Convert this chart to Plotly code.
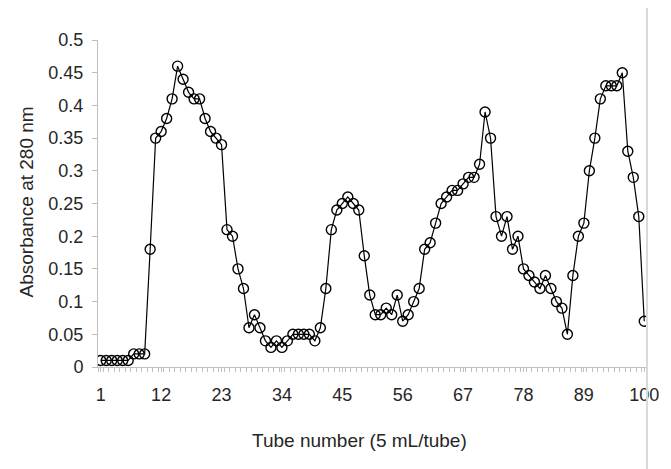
import plotly.graph_objects as go

tubes = list(range(1, 101))
absorbance = [
    0.01, 0.01, 0.01, 0.01, 0.01, 0.01, 0.02, 0.02, 0.02, 0.18,
    0.35, 0.36, 0.38, 0.41, 0.46, 0.44, 0.42, 0.41, 0.41, 0.38,
    0.36, 0.35, 0.34, 0.21, 0.20, 0.15, 0.12, 0.06, 0.08, 0.06,
    0.04, 0.03, 0.04, 0.03, 0.04, 0.05, 0.05, 0.05, 0.05, 0.04,
    0.06, 0.12, 0.21, 0.24, 0.25, 0.26, 0.25, 0.24, 0.17, 0.11,
    0.08, 0.08, 0.09, 0.08, 0.11, 0.07, 0.08, 0.10, 0.12, 0.18,
    0.19, 0.22, 0.25, 0.26, 0.27, 0.27, 0.28, 0.29, 0.29, 0.31,
    0.39, 0.35, 0.23, 0.20, 0.23, 0.18, 0.20, 0.15, 0.14, 0.13,
    0.12, 0.14, 0.12, 0.10, 0.09, 0.05, 0.14, 0.20, 0.22, 0.30,
    0.35, 0.41, 0.43, 0.43, 0.43, 0.45, 0.33, 0.29, 0.23, 0.07,
]
x_tickvals = [1, 12, 23, 34, 45, 56, 67, 78, 89, 100]
y_tickvals = [0, 0.05, 0.1, 0.15, 0.2, 0.25, 0.3, 0.35, 0.4, 0.45, 0.5]
y_ticktext = ["0", "0.05", "0.1", "0.15", "0.2", "0.25", "0.3", "0.35", "0.4", "0.45", "0.5"]
x_title = "Tube number (5 mL/tube)"
y_title = "Absorbance at 280 nm"

FONT = "Arial, Liberation Sans, Helvetica, sans-serif"
AXIS_GRAY = "#bfbfbf"
TEXT = "#262626"

fig = go.Figure()
fig.add_trace(go.Scatter(
    x=tubes, y=absorbance, mode="lines+markers",
    line=dict(color="black", width=1.2),
    marker=dict(symbol="circle-open", size=10, color="black", line=dict(width=1.4)),
    showlegend=False, hoverinfo="x+y",
))

# the page body has an 8px margin, so the figure is sized/offset to compensate
W, H = 663, 461
L, R, T, B = 90, 24, 32, 102
pw = W - L - R
ph = H - T - B

fig.update_layout(
    width=W, height=H,
    margin=dict(l=L, r=R, t=T, b=B, pad=0),
    paper_bgcolor="white", plot_bgcolor="white",
    font=dict(family=FONT, size=18, color=TEXT),
    xaxis=dict(
        range=[0.5, 100.5],
        tickmode="array", tickvals=x_tickvals, ticktext=[str(v) for v in x_tickvals],
        showline=True, linecolor=AXIS_GRAY, linewidth=1,
        ticks="outside", ticklen=4, tickcolor=AXIS_GRAY, tickwidth=1,
        minor=dict(tickmode="linear", tick0=0.5, dtick=1, ticks="outside", ticklen=4,
                   tickcolor=AXIS_GRAY, showgrid=False),
        showgrid=False, zeroline=False,
        ticklabelstandoff=7,
        tickfont=dict(size=18, color=TEXT),
    ),
    yaxis=dict(
        range=[0, 0.5],
        tickmode="array", tickvals=y_tickvals, ticktext=y_ticktext,
        showline=True, linecolor=AXIS_GRAY, linewidth=1,
        ticks="outside", ticklen=5, tickcolor=AXIS_GRAY, tickwidth=1,
        showgrid=False, zeroline=False,
        ticklabelstandoff=5,
        tickfont=dict(size=18, color=TEXT),
    ),
    annotations=[
        dict(text=x_title, xref="paper", yref="paper",
             x=(351 - L) / pw, y=(T + ph - 432) / ph,
             xanchor="center", yanchor="middle", showarrow=False,
             font=dict(size=19, color=TEXT)),
        dict(text=y_title, xref="paper", yref="paper", textangle=-90,
             x=(18 - L) / pw, y=(T + ph - 194.5) / ph,
             xanchor="center", yanchor="middle", showarrow=False,
             font=dict(size=19, color=TEXT)),
    ],
)

# right-hand border line spanning full figure height
fig.add_shape(type="line", xref="paper", yref="paper",
              x0=(639 - L) / pw, x1=(639 - L) / pw,
              y0=-B / ph, y1=1 + T / ph,
              line=dict(color="#d9d9d9", width=2), layer="above")
# cropped right edge (label "100" is cut off in the reference)
fig.add_shape(type="rect", xref="paper", yref="paper",
              x0=(651 - L) / pw, x1=(W + 5 - L) / pw,
              y0=-B / ph, y1=-0.02,
              line=dict(width=0), fillcolor="white", layer="above")

fig.write_html("out.html")
